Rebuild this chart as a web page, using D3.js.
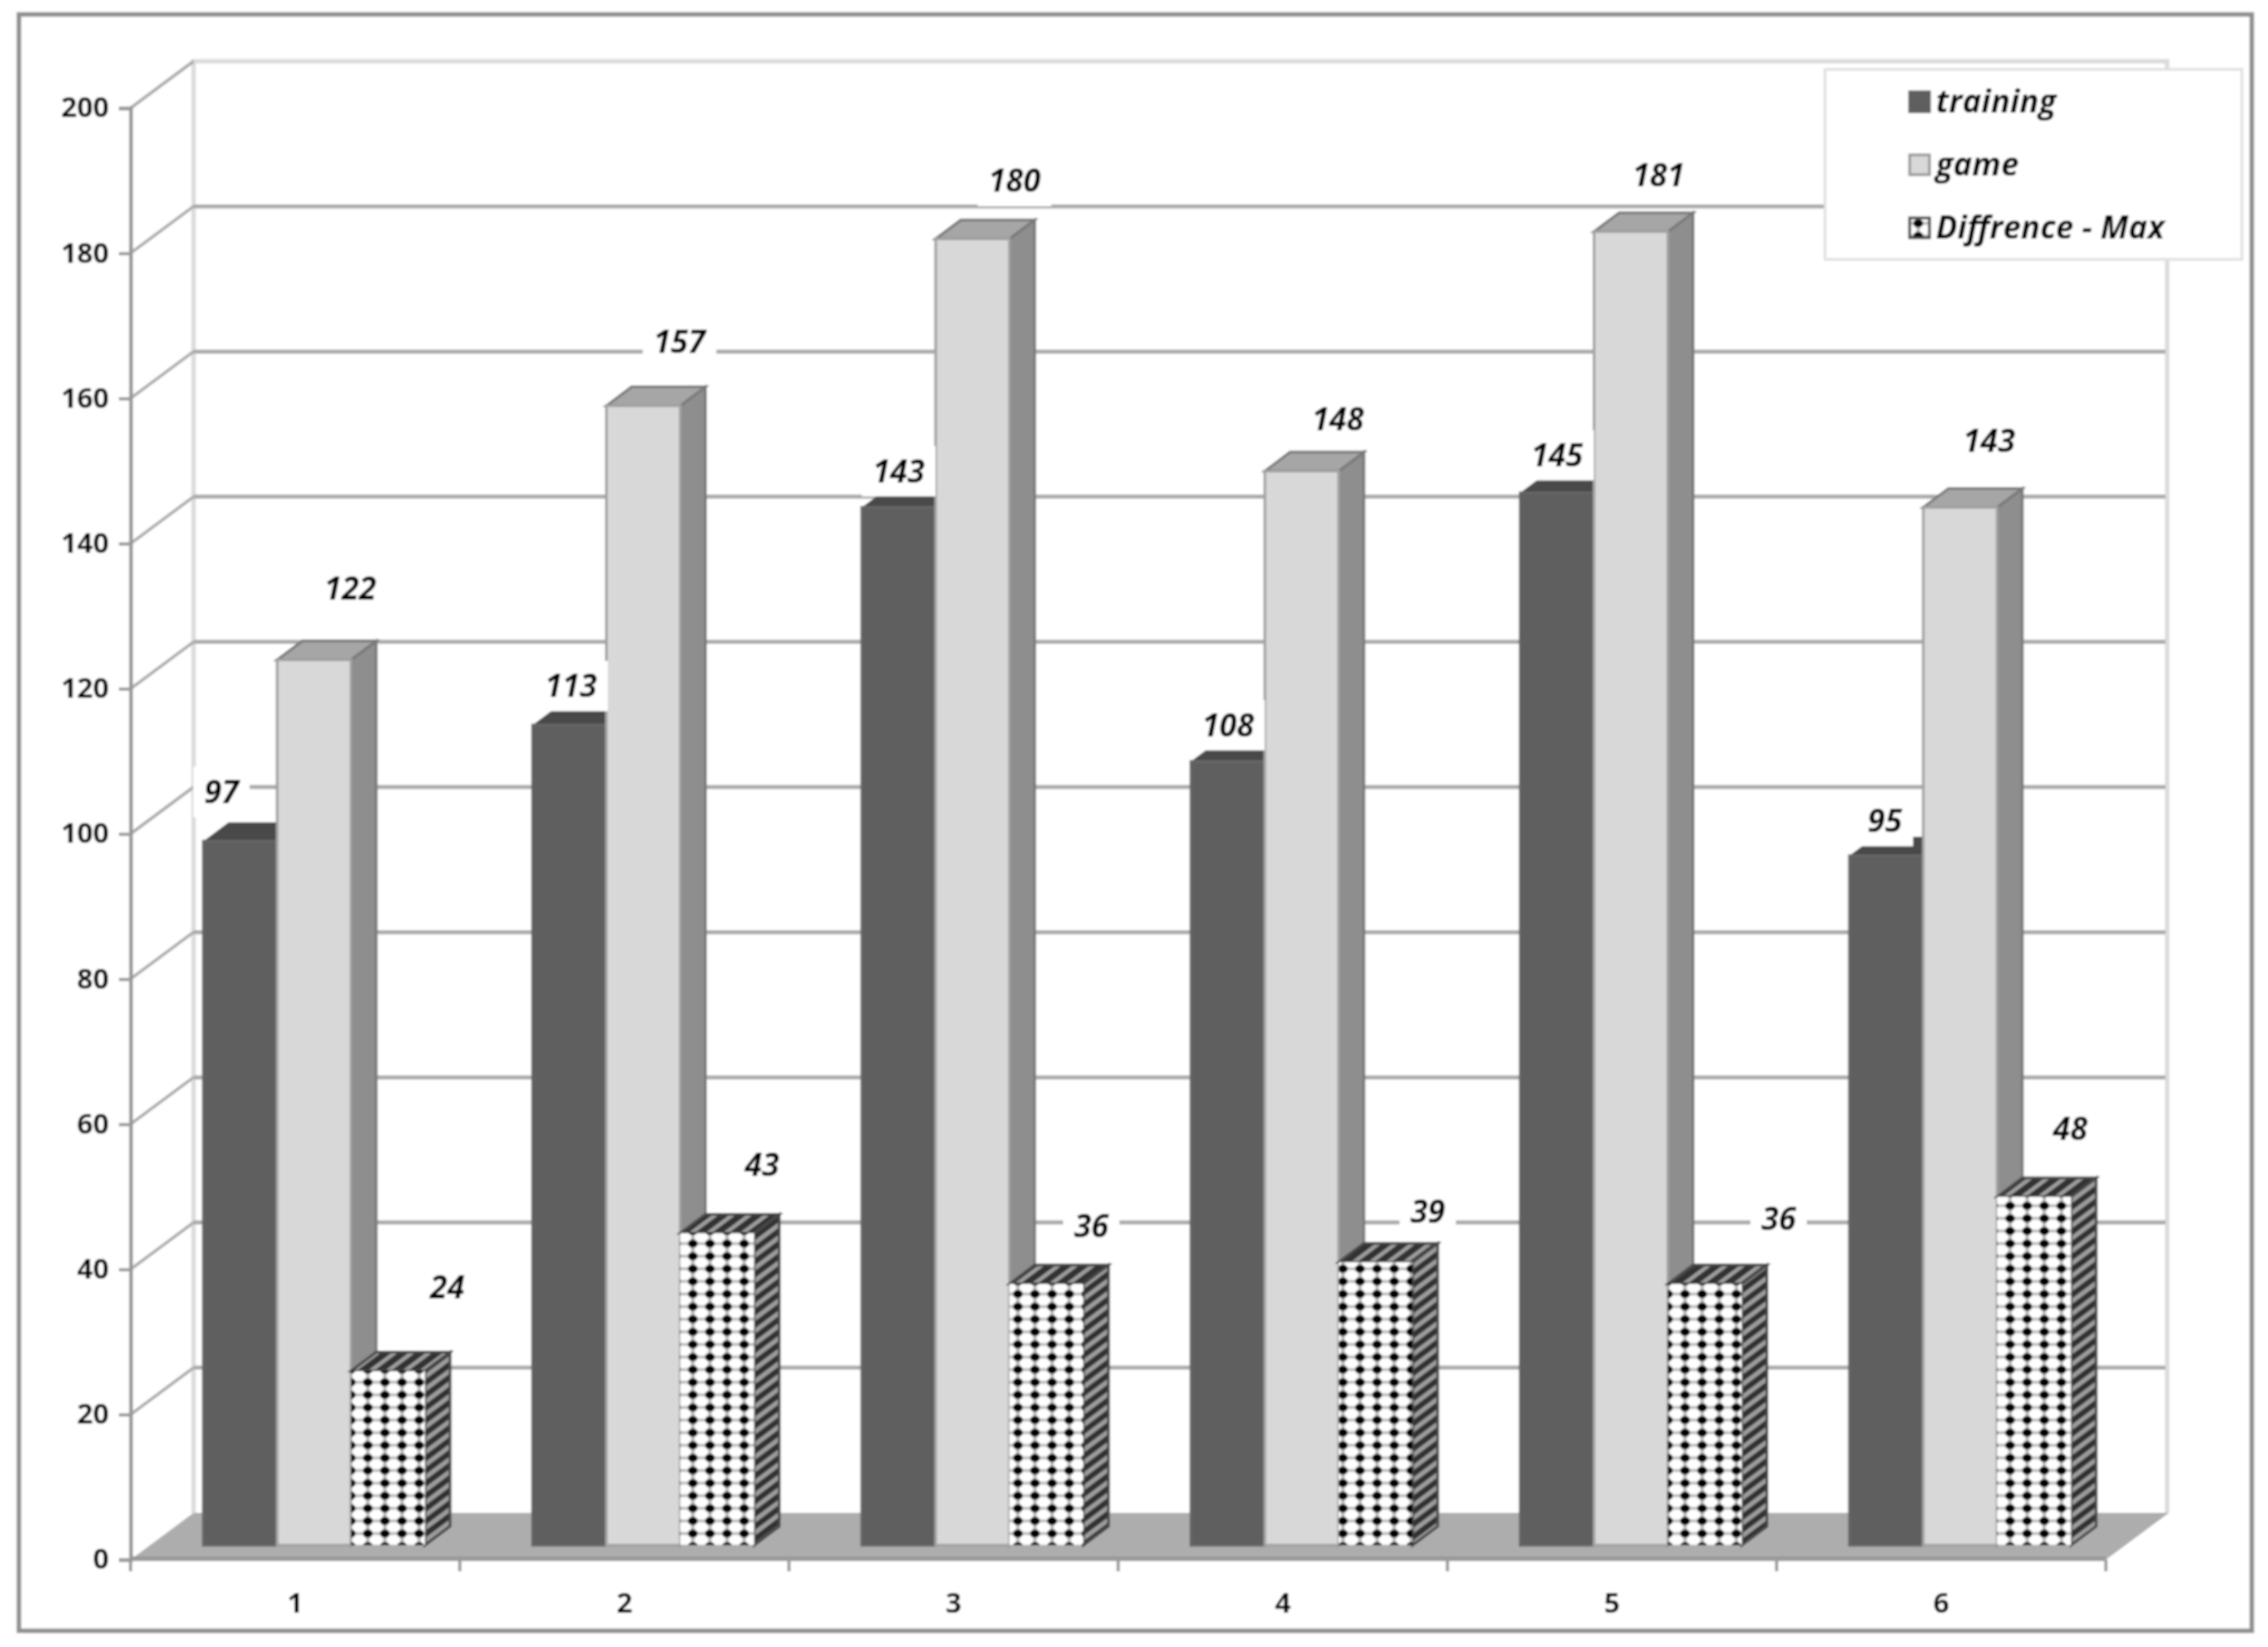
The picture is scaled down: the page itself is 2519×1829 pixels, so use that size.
<!DOCTYPE html>
<html><head><meta charset="utf-8">
<script src="https://cdnjs.cloudflare.com/ajax/libs/d3/7.8.5/d3.min.js"></script>
<style>html,body{margin:0;background:#fff}svg{display:block}</style></head>
<body><svg id="c" width="2519" height="1829"></svg>
<script>
const categories = ["1","2","3","4","5","6"];
const seriesNames = ["training","game","Diffrence - Max"];
const training = [97,113,143,108,145,95];
const game = [122,157,180,148,181,143];
const difference = [24,43,36,39,36,48];
const yTicks = [0,20,40,60,80,100,120,140,160,180,200];

// label nudges, reference-view units relative to the top centre of each bar
const nudgeTraining = [[-13,-34],[1,-27],[0,-25],[0,-25],[0,-26],[-1,-24]];
const nudgeGame = [[25,-49],[25,-44],[29,-40],[25,-36],[19,-39],[20,-46]];
const nudgeDifference = [[41,-58],[31,-47],[31,-40],[36,-35],[51,-45],[25,-47]];

const seriesValues = [training, game, difference];
const seriesNudges = [nudgeTraining, nudgeGame, nudgeDifference];
const styles = [
  {front:"#5f5f5f", side:"#4c4c4c", top:"#4a4a4a", edge:"#666666", sideEdge:"none"},
  {front:"#d8d8d8", side:"#8e8e8e", top:"#a6a6a6", edge:"#a2a2a2", sideEdge:"#7a7a7a"},
  {front:"url(#dots)", side:"url(#sideHatch)", top:"url(#topHatch)", edge:"none", sideEdge:"#4a4a4a"}
];
const W=2519, H=1829, FONT="'Open Sans', Lato, sans-serif";
const left=145, right=2339, depthX=70, depthY=-52, barShiftX=21, barShiftY=-16, barDX=28, barDY=21, K=1.6065;

const y = d3.scaleLinear().domain([0,200]).range([1732,120]);
const x = d3.scaleBand().domain(categories).range([left,right]).paddingInner(0.327).paddingOuter(0.1636);
const xInner = d3.scaleBand().domain(d3.range(seriesNames.length)).range([0,x.bandwidth()]);

const svg = d3.select("#c");
const defs = svg.append("defs");
const blur = defs.append("filter").attr("id","soft")
  .attr("filterUnits","userSpaceOnUse").attr("x",0).attr("y",0).attr("width",W).attr("height",H);
blur.append("feGaussianBlur").attr("stdDeviation",1.1);

const dots = defs.append("pattern").attr("id","dots").attr("patternUnits","userSpaceOnUse")
  .attr("width",19).attr("height",14).attr("x",0).attr("y",2);
dots.append("rect").attr("width",19).attr("height",14).attr("fill","#fff");
dots.append("rect").attr("x",7.5).attr("width",4).attr("height",14).attr("fill","#b8b8b8");
dots.append("rect").attr("y",5.5).attr("width",19).attr("height",3).attr("fill","#b8b8b8");
dots.append("ellipse").attr("cx",9.5).attr("cy",7).attr("rx",5.5).attr("ry",4.5).attr("fill","#000");

const sideH = defs.append("pattern").attr("id","sideHatch").attr("patternUnits","userSpaceOnUse")
  .attr("width",28).attr("height",14).attr("patternTransform","skewY(-36.87)");
sideH.append("rect").attr("width",28).attr("height",14).attr("fill","#303030");
sideH.append("rect").attr("y",4).attr("width",28).attr("height",6).attr("fill","#9c9c9c");

const topH = defs.append("pattern").attr("id","topHatch").attr("patternUnits","userSpaceOnUse")
  .attr("width",19).attr("height",21).attr("patternTransform","skewX(-53.13)");
topH.append("rect").attr("width",19).attr("height",21).attr("fill","#303030");
topH.append("rect").attr("x",6).attr("width",7).attr("height",21).attr("fill","#9c9c9c");

const root = svg.append("g").attr("filter","url(#soft)");
root.append("rect").attr("width",W).attr("height",H).attr("fill","#fff");
root.append("rect").attr("x",21).attr("y",16).attr("width",2480).attr("height",1795)
  .attr("fill","#fff").attr("stroke","#909090").attr("stroke-width",5);

// walls
root.append("path").attr("fill","none").attr("stroke","#dcdcdc").attr("stroke-width",5)
  .attr("d",`M${left+depthX},${y(0)+depthY}V${y(200)+depthY}H${right+depthX-2}V${y(0)+depthY}`);

// gridlines on back wall and left wall
const grid = root.append("g").selectAll("g").data(yTicks.filter(d=>d>0)).join("g");
grid.filter(d=>d<200).append("line").attr("x1",left+depthX).attr("x2",right+depthX-4)
  .attr("y1",d=>y(d)+depthY).attr("y2",d=>y(d)+depthY).attr("stroke","#ababab").attr("stroke-width",4.5);
grid.append("line").attr("x1",left).attr("x2",left+depthX)
  .attr("y1",d=>y(d)).attr("y2",d=>y(d)+depthY).attr("stroke","#adadad").attr("stroke-width",3.5);

// floor
root.append("path").attr("fill","#adadad")
  .attr("d",`M${left},${y(0)}L${right},${y(0)}L${right+depthX},${y(0)+depthY}L${left+depthX},${y(0)+depthY}Z`);
root.append("line").attr("x1",left).attr("x2",right).attr("y1",y(0)-1).attr("y2",y(0)-1)
  .attr("stroke","#999").attr("stroke-width",5);

// axes
const yAxis = root.append("g").attr("transform",`translate(${left},0)`)
  .call(d3.axisLeft(y).tickValues(yTicks).tickSize(13).tickPadding(11));
yAxis.select(".domain").attr("stroke","#959595").attr("stroke-width",4);
yAxis.selectAll(".tick line").attr("stroke","#9a9a9a").attr("stroke-width",3.5);
yAxis.selectAll("text").attr("font-family",FONT).attr("font-weight",700).attr("font-size",31).attr("fill","#000");

const xAxis = root.append("g").attr("transform",`translate(0,${y(0)})`)
  .call(d3.axisBottom(x).tickSize(0).tickPadding(37));
xAxis.select(".domain").remove();
xAxis.selectAll("text").attr("font-family",FONT).attr("font-weight",700).attr("font-size",31).attr("fill","#000");
root.append("g").selectAll("line").data(d3.range(categories.length+1)).join("line")
  .attr("x1",i=>left+i*x.step()).attr("x2",i=>left+i*x.step())
  .attr("y1",y(0)).attr("y2",y(0)+13).attr("stroke","#9a9a9a").attr("stroke-width",3.5);

// bars
const bars = [];
categories.forEach((c,ci)=>seriesNames.forEach((s,si)=>bars.push({
  x:x(c)+xInner(si)+barShiftX, w:xInner.bandwidth(), v:seriesValues[si][ci], si, nudge:seriesNudges[si][ci]
})));
const barY = d=>y(d.v)+barShiftY, baseY = y(0)+barShiftY;
const bg = root.append("g").selectAll("g").data(bars).join("g");
bg.append("path").attr("fill",d=>styles[d.si].side).attr("stroke",d=>styles[d.si].sideEdge).attr("stroke-width",3)
  .attr("d",d=>`M${d.x+d.w},${barY(d)}l${barDX},${-barDY}V${baseY-barDY}L${d.x+d.w},${baseY}Z`);
bg.append("path").attr("fill",d=>styles[d.si].top).attr("stroke",d=>styles[d.si].sideEdge).attr("stroke-width",3)
  .attr("d",d=>`M${d.x},${barY(d)}l${barDX},${-barDY}h${d.w}l${-barDX},${barDY}Z`);
bg.append("rect").attr("x",d=>d.x).attr("y",barY).attr("width",d=>d.w).attr("height",d=>baseY-barY(d))
  .attr("fill",d=>styles[d.si].front).attr("stroke",d=>styles[d.si].edge).attr("stroke-width",3);

// value labels with white plates
const lab = root.append("g").selectAll("g").data(bars).join("g")
  .attr("transform",d=>`translate(${d.x+d.w/2+d.nudge[0]*K},${barY(d)+d.nudge[1]*K})`);
const plate = lab.append("rect").attr("y",-28).attr("height",56).attr("fill","#fff");
const labText = lab.append("text").text(d=>d.v).attr("text-anchor","middle").attr("dy","0.35em")
  .attr("font-family",FONT).attr("font-weight",700).attr("font-style","italic").attr("font-size",35).attr("fill","#000");
plate.each(function(d,i){
  const w = labText.nodes()[i].getComputedTextLength()+24;
  d3.select(this).attr("x",-w/2).attr("width",w);
});

// legend
const legend = root.append("g");
legend.append("rect").attr("x",2027).attr("y",77).attr("width",463).attr("height",211)
  .attr("fill","#fff").attr("stroke","#e0e0e0").attr("stroke-width",3);
const li = legend.selectAll("g").data(seriesNames).join("g")
  .attr("transform",(d,i)=>`translate(2121,${113+i*70})`);
li.append("rect").attr("x",0).attr("y",-11).attr("width",22).attr("height",22)
  .attr("fill",(d,i)=>styles[i].front).attr("stroke",(d,i)=>["#5f5f5f","#9a9a9a","#444"][i]).attr("stroke-width",3);
li.append("text").text(d=>d).attr("x",29).attr("dy","0.35em")
  .attr("font-family",FONT).attr("font-weight",700).attr("font-style","italic").attr("font-size",35.5).attr("fill","#000");
</script></body></html>
